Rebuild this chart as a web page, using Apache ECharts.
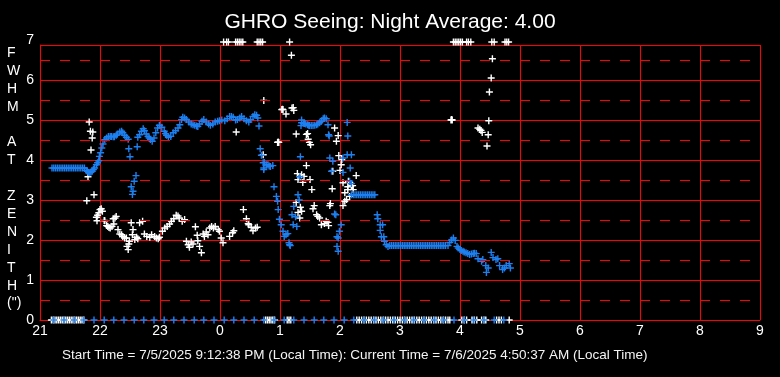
<!DOCTYPE html>
<html>
<head>
<meta charset="utf-8">
<title>GHRO Seeing</title>
<script src="https://cdn.jsdelivr.net/npm/echarts@6/dist/echarts.min.js"></script>
<style>
  html, body { margin: 0; padding: 0; background: #000; }
  #chart { width: 780px; height: 377px; }
</style>
</head>
<body>
<div id="chart"></div>
<script>
// x is hours since midnight of the start day (24 = 0h next day)
var xTickLabels = ['21', '22', '23', '0', '1', '2', '3', '4', '5', '6', '7', '8', '9'];
var yTickLabels = ['0', '1', '2', '3', '4', '5', '6', '7'];
var halfLines = [0.5, 1.5, 2.5, 3.5, 4.5, 5.5, 6.5];

var titleText = 'GHRO Seeing: Night Average: 4.00';
var footerText = 'Start Time = 7/5/2025 9:12:38 PM (Local Time): Current Time = 7/6/2025 4:50:37 AM (Local Time)';
var yName = 'F\nW\nH\nM\n\nA\nT\n\nZ\nE\nN\nI\nT\nH\n(")';

// white measurements
var whitePoints = [
  [21.82, 4.95], [21.84, 4.72], [21.88, 4.70], [21.87, 4.55], [21.85, 4.25], [21.80, 3.58], [21.90, 3.13], [21.78, 2.98],
  [22.00, 2.76], [22.02, 2.78], [22.04, 2.72], [21.98, 2.68], [21.96, 2.62], [21.94, 2.57], [21.95, 2.48], [22.07, 2.49],
  [22.08, 2.48], [22.11, 2.36], [22.13, 2.34], [22.15, 2.31], [22.17, 2.30], [22.20, 2.34], [22.22, 2.53], [22.25, 2.55],
  [22.27, 2.59], [22.23, 2.40], [22.30, 2.26], [22.33, 2.15], [22.36, 2.13], [22.38, 2.09], [22.41, 2.05], [22.44, 2.05],
  [22.48, 1.90], [22.47, 1.76], [22.45, 1.84], [22.49, 1.97], [22.52, 2.43], [22.55, 2.26], [22.54, 2.13], [22.61, 2.07],
  [22.58, 2.01], [22.63, 2.03], [22.66, 2.43], [22.71, 2.47], [22.74, 2.15], [22.78, 2.09], [22.83, 2.07], [22.86, 2.13],
  [22.91, 2.09], [22.94, 2.05], [22.97, 2.03], [22.99, 2.07], [23.04, 2.22], [23.08, 2.30], [23.12, 2.34], [23.16, 2.40],
  [23.19, 2.47], [23.23, 2.53], [23.27, 2.62], [23.30, 2.60], [23.32, 2.55], [23.37, 2.47], [23.41, 2.51], [23.44, 1.97],
  [23.47, 1.88], [23.49, 1.82], [23.52, 1.95], [23.55, 1.90], [23.59, 2.33], [23.62, 2.12], [23.63, 1.98], [23.66, 1.84],
  [23.69, 1.68], [23.72, 2.15], [23.74, 2.09], [23.77, 2.20], [23.80, 2.13], [23.83, 2.30], [23.86, 2.34], [23.89, 2.30],
  [23.92, 2.34], [23.97, 2.26], [23.99, 2.22], [24.02, 2.05], [24.05, 1.93], [24.16, 2.09], [24.21, 2.18], [24.23, 2.23],
  [24.39, 2.76], [24.44, 2.53], [24.47, 2.41], [24.48, 2.38], [24.52, 2.32], [24.55, 2.23], [24.59, 2.30], [24.62, 2.32],
  [24.27, 4.70], [24.72, 4.13], [24.73, 5.49],
  [24.96, 4.44], [24.97, 4.45], [24.98, 4.44],
  [25.03, 5.26], [25.04, 5.27], [25.05, 5.26], [25.10, 5.15], [25.20, 5.30], [25.22, 5.31], [25.23, 5.24], [25.19, 6.62],
  [25.27, 4.65], [25.44, 4.64], [25.46, 4.66], [25.47, 4.52], [25.49, 4.44], [25.51, 4.38],
  [25.91, 4.80], [25.97, 4.61], [25.94, 4.47], [25.98, 4.11], [26.03, 4.01],
  [25.44, 3.86], [25.29, 3.66], [25.30, 3.51], [25.36, 3.63], [25.40, 3.59], [25.38, 3.44], [25.50, 3.51],
  [25.88, 3.72], [26.00, 3.74], [26.02, 3.88], [26.05, 3.43], [26.14, 3.47], [26.19, 3.36], [26.27, 3.61], [26.08, 3.18],
  [26.13, 3.26], [26.22, 3.26], [26.11, 3.01], [26.05, 2.86], [26.16, 3.09], [26.08, 2.97], [26.13, 3.33], [26.21, 3.36],
  [25.53, 3.26], [25.87, 3.28], [25.84, 2.91], [25.83, 2.86],
  [25.57, 2.86], [25.55, 2.78], [25.61, 2.63], [25.63, 2.59], [25.66, 2.55], [25.69, 2.38], [25.74, 2.41], [25.77, 2.47],
  [25.81, 2.36], [25.80, 2.44], [25.34, 2.82], [25.30, 2.69], [25.33, 2.55], [25.27, 2.94], [25.36, 2.72],
  [27.85, 5.00], [27.86, 5.01], [27.87, 5.00],
  [28.30, 4.80], [28.33, 4.77], [28.35, 4.74], [28.37, 4.69],
  [28.45, 4.35], [28.47, 4.63], [28.48, 4.98], [28.49, 5.70], [28.52, 6.05], [28.54, 6.53]
];
// white marks pinned at the top (~7) and at 0
var whiteTopHours = [24.06, 24.11, 24.14, 24.26, 24.29, 24.32, 24.35, 24.38, 24.62, 24.65, 24.68, 24.71, 25.16,
  27.89, 27.92, 27.95, 27.98, 28.01, 28.04, 28.11, 28.14, 28.18, 28.53, 28.57, 28.75, 28.78, 28.81];
var whiteTopValue = 6.95;
var whiteZeroHours = [21.19, 21.22, 21.25, 21.28, 21.31, 21.34, 21.37, 21.40, 21.43, 21.46, 21.49, 21.52, 21.55, 21.58,
  21.61, 21.64, 21.67, 21.70, 21.73,
  24.76, 24.79, 24.82, 24.85, 24.88, 24.91, 25.12, 25.15, 25.18,
  26.28, 26.32, 26.36, 26.40, 26.44, 26.48, 26.52, 26.56, 26.60, 26.64, 26.68, 26.72, 26.76, 26.80, 26.84, 26.88,
  26.92, 26.96, 27.00, 27.04, 27.08, 27.12, 27.16, 27.20, 27.24, 27.28, 27.32, 27.36, 27.40, 27.44, 27.48, 27.52,
  27.56, 27.60, 27.64, 27.68, 27.72, 27.76, 27.80, 27.83,
  28.03, 28.07, 28.11, 28.20, 28.24, 28.28, 28.36, 28.40, 28.43, 28.61, 28.65, 28.69, 28.82];

// blue measurements
var bluePoints = [
  [21.20, 3.80], [21.23, 3.80], [21.26, 3.80], [21.29, 3.80], [21.32, 3.80], [21.35, 3.80], [21.38, 3.80], [21.41, 3.80],
  [21.44, 3.80], [21.47, 3.80], [21.50, 3.80], [21.53, 3.80], [21.56, 3.80], [21.59, 3.80], [21.62, 3.80], [21.65, 3.80],
  [21.68, 3.80], [21.71, 3.80],
  [21.74, 3.80], [21.77, 3.74], [21.79, 3.72], [21.81, 3.69], [21.83, 3.68], [21.85, 3.70], [21.87, 3.72], [21.89, 3.76],
  [21.91, 3.80], [21.94, 3.88], [21.96, 3.93], [21.98, 3.98], [21.99, 4.09], [22.01, 4.18], [22.03, 4.30], [22.05, 4.40],
  [22.08, 4.51], [22.11, 4.55], [22.14, 4.59], [22.17, 4.59], [22.19, 4.59], [22.22, 4.58], [22.24, 4.58], [22.27, 4.62],
  [22.29, 4.65], [22.33, 4.70], [22.36, 4.72], [22.38, 4.68], [22.41, 4.62], [22.44, 4.57],
  [22.63, 4.57], [22.66, 4.63], [22.69, 4.72], [22.72, 4.78], [22.74, 4.73], [22.77, 4.65], [22.80, 4.59], [22.82, 4.55],
  [22.84, 4.51], [22.87, 4.47], [22.90, 4.55], [22.93, 4.68], [22.96, 4.80], [22.99, 4.87], [23.03, 4.82], [23.07, 4.72],
  [23.09, 4.66], [23.11, 4.62], [23.14, 4.57], [23.18, 4.59], [23.22, 4.68], [23.26, 4.73], [23.30, 4.80], [23.33, 4.88],
  [23.36, 5.01], [23.38, 5.07], [23.41, 5.05], [23.44, 5.01], [23.48, 4.95], [23.52, 4.90], [23.55, 4.88], [23.58, 4.87],
  [23.61, 4.85], [23.63, 4.84], [23.66, 4.90], [23.70, 4.97], [23.73, 5.01], [23.77, 4.95], [23.81, 4.90], [23.84, 4.87],
  [23.88, 4.90], [23.92, 4.95], [23.96, 4.97], [23.99, 4.98], [24.03, 5.00], [24.08, 4.98], [24.12, 5.03], [24.16, 5.09],
  [24.19, 5.09], [24.22, 5.07], [24.26, 5.00], [24.29, 5.01], [24.33, 5.05], [24.36, 5.09], [24.40, 5.03], [24.44, 4.98],
  [24.48, 4.95], [24.51, 5.01], [24.55, 5.09], [24.58, 5.13], [24.61, 5.12], [24.63, 5.05],
  [22.47, 4.52], [22.48, 4.28], [22.62, 4.33], [22.50, 4.08], [22.60, 3.61], [22.57, 3.47], [22.52, 3.33], [22.55, 3.22],
  [22.54, 3.14],
  [24.65, 4.85], [24.67, 4.28], [24.69, 4.12], [24.72, 3.93], [24.73, 3.80], [24.73, 3.76], [24.74, 3.94], [24.77, 3.88],
  [24.80, 3.88], [24.82, 3.85], [24.84, 3.84], [24.88, 3.86],
  [24.90, 3.33], [24.94, 3.09], [24.96, 2.97], [24.97, 2.76], [24.99, 2.52], [25.02, 2.38], [25.05, 2.22], [25.07, 2.09],
  [25.10, 2.13], [25.13, 2.16], [25.15, 1.93], [25.17, 1.86], [25.16, 1.88],
  [25.23, 2.84], [25.26, 2.58], [25.22, 2.38], [25.30, 3.13], [25.32, 3.00], [25.33, 3.58], [25.20, 2.63], [25.28, 2.34],
  [25.34, 4.08],
  [25.35, 4.86], [25.36, 5.00], [25.36, 4.93], [25.39, 4.92], [25.41, 4.91], [25.43, 4.90], [25.46, 4.88], [25.48, 4.87],
  [25.49, 4.86], [25.52, 4.86], [25.55, 4.86], [25.58, 4.87], [25.61, 4.88], [25.63, 4.90], [25.66, 4.93], [25.69, 4.97],
  [25.72, 5.03], [25.74, 5.05], [25.77, 5.03],
  [25.80, 4.88], [25.81, 4.63], [25.82, 4.60], [25.83, 4.05], [25.88, 3.97], [25.86, 3.72], [25.93, 2.63], [25.91, 2.65],
  [26.02, 2.38], [25.99, 2.22], [25.97, 2.05], [25.95, 1.84], [25.97, 1.72], [25.95, 2.08], [26.12, 4.94], [26.13, 4.60],
  [26.12, 4.13], [26.17, 3.80], [26.19, 4.13], [26.05, 4.05], [26.05, 3.69], [26.19, 3.41], [26.16, 3.47],
  [26.19, 3.13], [26.22, 3.13], [26.25, 3.13], [26.28, 3.13], [26.31, 3.13], [26.34, 3.13], [26.37, 3.13], [26.40, 3.13],
  [26.43, 3.13], [26.46, 3.13], [26.49, 3.13], [26.52, 3.13], [26.55, 3.13], [26.58, 3.13],
  [26.62, 2.63], [26.63, 2.53], [26.67, 2.38], [26.71, 2.38], [26.67, 2.24], [26.69, 2.08], [26.73, 2.08], [26.74, 1.97],
  [26.77, 1.88], [26.80, 1.84],
  [26.83, 1.86], [26.86, 1.86], [26.89, 1.86], [26.92, 1.86], [26.95, 1.86], [26.98, 1.86], [27.01, 1.86], [27.04, 1.86],
  [27.07, 1.86], [27.10, 1.86], [27.13, 1.86], [27.16, 1.86], [27.19, 1.86], [27.22, 1.86], [27.25, 1.86], [27.28, 1.86],
  [27.31, 1.86], [27.34, 1.86], [27.37, 1.86], [27.40, 1.86], [27.43, 1.86], [27.46, 1.86], [27.49, 1.86], [27.52, 1.86],
  [27.55, 1.86], [27.58, 1.86], [27.61, 1.86], [27.64, 1.86], [27.67, 1.86], [27.70, 1.86], [27.73, 1.86], [27.76, 1.86],
  [27.80, 1.86],
  [27.83, 1.94], [27.86, 2.00], [27.89, 2.05], [27.92, 1.99], [27.95, 1.84], [27.97, 1.80], [28.00, 1.76], [28.02, 1.74],
  [28.05, 1.72], [28.07, 1.70], [28.10, 1.68], [28.13, 1.66], [28.16, 1.64], [28.19, 1.65], [28.22, 1.66], [28.24, 1.67],
  [28.27, 1.66], [28.30, 1.53], [28.36, 1.47], [28.38, 1.51], [28.43, 1.36], [28.47, 1.30], [28.44, 1.19], [28.52, 1.69],
  [28.55, 1.56], [28.60, 1.51], [28.63, 1.53], [28.66, 1.36], [28.71, 1.26], [28.74, 1.30], [28.77, 1.36], [28.82, 1.41],
  [28.84, 1.30]
];
var blueZeroHours = [21.23, 21.40, 21.57, 21.73, 21.90, 22.07, 22.23, 22.40, 22.57, 22.73, 22.90, 23.07, 23.23, 23.40,
  23.57, 23.73, 23.90, 24.07, 24.23, 24.40, 24.57, 24.73, 24.90, 25.07, 25.23, 25.40, 25.57, 25.73, 25.90, 26.07,
  26.23, 26.40, 26.57, 26.73, 26.90, 27.07, 27.23, 27.40, 27.57, 27.73, 27.90, 28.07, 28.23, 28.40, 28.57, 28.73];

var plus = 'path://M2.4,0H3.6V2.4H6V3.6H3.6V6H2.4V3.6H0V2.4H2.4Z';
var font = 'Liberation Sans, Arial, sans-serif';

var whiteData = whitePoints
  .concat(whiteTopHours.map(function (h) { return [h, whiteTopValue]; }))
  .concat(whiteZeroHours.map(function (h) { return [h, 0]; }));
var blueData = bluePoints.concat(blueZeroHours.map(function (h) { return [h, 0]; }));

var chart = echarts.init(document.getElementById('chart'), null, { renderer: 'canvas' });
chart.setOption({
  backgroundColor: '#000000',
  animation: false,
  textStyle: { fontFamily: font },
  title: {
    text: titleText,
    left: 'center',
    top: 7,
    textStyle: { color: '#ffffff', fontSize: 21, fontWeight: 'normal', fontFamily: font }
  },
  grid: { left: 40, right: 20, top: 45, bottom: 57, outerBoundsMode: 'none', containLabel: false },
  xAxis: {
    type: 'value',
    min: 21,
    max: 33,
    interval: 1,
    axisTick: { show: false },
    axisLine: { show: true, lineStyle: { color: '#ff0000', width: 1 } },
    splitLine: { show: true, lineStyle: { color: '#ff0000', width: 1 } },
    axisLabel: {
      color: '#ffffff',
      fontSize: 14,
      margin: 4,
      fontFamily: font,
      formatter: function (v, i) { return xTickLabels[i]; }
    }
  },
  yAxis: {
    type: 'value',
    min: 0,
    max: 6.875,
    interval: 1,
    axisTick: { show: false },
    axisLine: { show: true, lineStyle: { color: '#ff0000', width: 1 } },
    splitLine: { show: true, showMaxLine: true, lineStyle: { color: '#ff0000', width: 1 } },
    axisLabel: {
      color: '#ffffff',
      fontSize: 14,
      margin: 6,
      fontFamily: font,
      showMaxLabel: false,
      formatter: function (v) { return yTickLabels[Math.round(v)]; }
    }
  },
  graphic: [
    {
      type: 'text', left: 7, top: 44,
      style: { text: yName, fill: '#ffffff', font: '14px ' + font, lineHeight: 17.9 }
    },
    {
      type: 'text', x: 34, y: 40,
      style: { text: yTickLabels[7], fill: '#ffffff', font: '14px ' + font, textAlign: 'right', textVerticalAlign: 'middle' }
    },
    {
      type: 'text', x: 62, y: 355,
      style: { text: footerText, fill: '#f4f4f4', font: '13.5px ' + font, textVerticalAlign: 'middle' }
    }
  ],
  series: [
    {
      type: 'scatter',
      data: [],
      z: 1,
      silent: true,
      markLine: {
        silent: true,
        symbol: ['none', 'none'],
        label: { show: false },
        lineStyle: { color: '#ff0000', width: 1, type: [10, 10] },
        data: halfLines.map(function (v) { return { yAxis: v }; })
      }
    },
    {
      name: 'white',
      type: 'scatter',
      z: 2,
      clip: false,
      symbol: plus,
      symbolSize: 7,
      itemStyle: { color: '#ffffff', opacity: 1 },
      data: whiteData
    },
    {
      name: 'blue',
      type: 'scatter',
      z: 3,
      clip: false,
      symbol: plus,
      symbolSize: 7,
      itemStyle: { color: '#1e80f0', opacity: 1 },
      data: blueData
    }
  ]
});
</script>
</body>
</html>
